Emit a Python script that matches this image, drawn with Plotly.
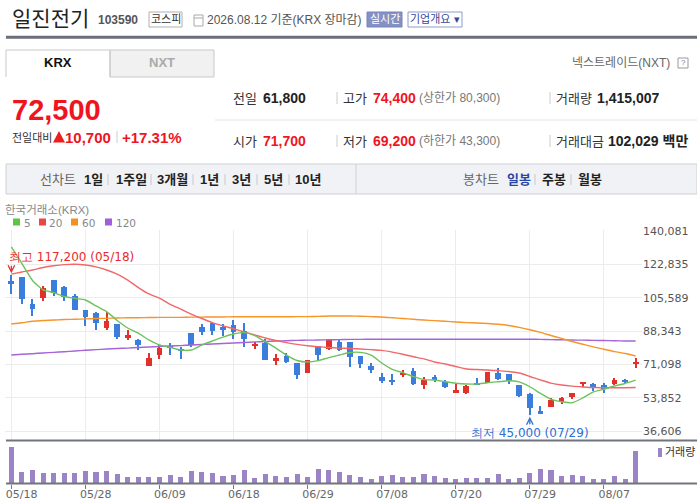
import plotly.graph_objects as go

W, H = 697, 503

# ---------------- data ----------------
dates = ["05/18","05/19","05/20","05/21","05/22","05/26","05/27","05/28","05/29","06/01",
         "06/02","06/04","06/05","06/08","06/09","06/10","06/11","06/12","06/15","06/16",
         "06/17","06/18","06/19","06/22","06/23","06/24","06/25","06/26","06/29","06/30",
         "07/01","07/02","07/03","07/06","07/07","07/08","07/09","07/10","07/13","07/14",
         "07/15","07/16","07/20","07/21","07/22","07/23","07/24","07/27","07/28","07/29",
         "07/30","07/31","08/03","08/04","08/05","08/06","08/07","08/10","08/11","08/12"]

opens = [114200,116300,102300,105600,114700,111100,106500,99400,97700,89900,
         92000,84900,83800,70400,76100,80300,78900,87200,90300,92500,
         90300,91400,88200,80700,82300,72800,75400,71800,66800,80600,
         79200,82700,82700,75400,70200,64500,63000,65700,67600,60600,
         64400,62100,56300,56100,61600,61600,66800,66100,60400,55700,
         47100,49200,51500,54300,61100,60900,60400,60900,63000,71700]
highs = [117200,116300,104900,111800,114700,111600,107500,99400,98200,98200,
         92000,88900,84400,76800,81200,82000,79900,87200,92000,92500,
         92000,94000,92500,82700,84200,76400,77100,71800,73300,80600,
         84400,84000,82700,75400,71600,66600,66100,68200,69200,64700,
         65600,63000,61300,60400,63900,67300,69400,66100,60400,56400,
         49500,53500,54300,56400,61800,61600,61300,63900,63500,74400]
lows = [107300,102200,96300,104000,106600,104000,99000,91100,88900,89000,
        84200,83700,78500,70400,73900,75900,74000,80100,86300,86300,
        85800,84200,80200,79000,73300,70900,71900,63500,66800,72700,
        78500,78200,69900,69400,66500,61300,60600,64700,60400,58300,
        62100,59100,56300,55600,60400,61600,63000,60900,54200,45000,
        45400,49200,50400,53200,59200,57500,56400,60200,60800,69200]
closes = [112800,105100,99900,110400,108200,105800,99200,95700,92600,93700,
          85100,86300,81300,74500,79500,79600,78000,81100,88000,88500,
          88900,87800,84200,81800,73300,74400,72500,65700,73300,76100,
          83700,78500,75000,71400,68200,62500,62100,66600,60900,63200,
          63400,59500,57800,59900,60900,67300,63500,62500,54700,48700,
          45600,52600,53500,56100,61600,59200,58200,63000,61800,72500]
volumes = [1590000,495000,583000,451000,451000,451000,451000,539000,495000,539000,
           407000,276000,276000,276000,276000,364000,276000,539000,495000,451000,
           320000,364000,583000,232000,407000,320000,276000,407000,276000,626000,
           583000,495000,364000,276000,188000,320000,364000,276000,276000,407000,
           320000,232000,188000,232000,232000,232000,407000,188000,232000,451000,
           626000,583000,320000,364000,320000,188000,188000,320000,188000,1415007]
ma5 = [131900,123200,114500,109600,108200,106200,105300,104400,101300,98400,
       93800,89900,87200,83700,81100,79900,78500,78500,81100,83200,
       85200,86800,87500,86000,82800,79500,75900,73100,72300,73000,
       74600,75900,77200,77300,75900,71800,68500,66800,64700,63200,
       63000,62100,61300,60900,60900,61600,62100,62600,62000,59500,
       56100,53000,51800,51200,53700,56800,58200,59900,61200,62900]
ma20 = [117800,118900,119900,121200,122100,122700,122900,122500,121500,119900,
        117800,114700,110800,107500,105300,102100,99700,97100,94800,92700,
        91000,89500,87900,86300,84700,83400,82300,81400,80700,80200,
        79800,79500,79300,79000,78700,78300,77400,76300,75000,73900,
        72300,71300,70000,68700,68400,68200,67800,67400,66600,64800,
        63000,61400,60400,59800,59400,59100,59000,59000,59000,59100]
ma60 = [92000,92600,93400,93800,94000,94300,94400,94600,94800,94900,
        95100,95200,95200,95300,95400,95400,95400,95500,95500,95600,
        95600,95700,95700,95700,95700,95700,95700,95800,95800,95900,
        96100,96100,96100,96000,95800,95600,95200,94800,94400,94000,
        93700,93400,93000,92700,92500,92200,91800,91200,90200,89000,
        87600,86000,84500,82900,81500,80100,78900,77700,76700,75400]
ma120 = [75900,76300,76600,77000,77300,77600,78000,78400,78700,79000,
         79300,79500,79800,80100,80300,80600,80800,81100,81400,81600,
         81900,82100,82400,82700,82900,83200,83300,83500,83600,83700,
         83800,83900,84000,84000,84100,84100,84100,84100,84100,84100,
         84100,84100,84100,84100,84100,84100,84100,84100,84100,84100,
         84000,83900,83800,83700,83600,83500,83400,83300,83200,83200]

date_ticks = ["05/18","05/28","06/09","06/18","06/29","07/08","07/20","07/29","08/07"]
price_ticks = [140081,122835,105589,88343,71098,53852,36606]
high_label = "최고 117,200 (05/18)"
low_label = "최저 45,000 (07/29)"

# ---------------- helpers ----------------
def X(px):
    return px / W

def Y(py):
    return 1 - py / H

UP, DOWN = "#e2302a", "#3a7ddd"
KFONT = "Liberation Sans, Noto Sans CJK KR, sans-serif"
DFONT = "DejaVu Sans, sans-serif"

fig = go.Figure()

colors = [UP if c >= o else DOWN for o, c in zip(opens, closes)]

# wicks
fig.add_trace(go.Bar(x=dates, y=[h - l for h, l in zip(highs, lows)], base=lows,
                     width=0.11, marker=dict(color=colors, line=dict(width=0)),
                     xaxis="x", yaxis="y", hoverinfo="skip"))
# bodies
fig.add_trace(go.Bar(x=dates, y=[abs(c - o) for o, c in zip(opens, closes)],
                     base=[min(o, c) for o, c in zip(opens, closes)],
                     width=0.54, marker=dict(color=colors, line=dict(width=0)),
                     xaxis="x", yaxis="y", hoverinfo="skip"))

for vals, col in [(ma120, "#a565d6"), (ma60, "#f7942a"), (ma20, "#f06868"), (ma5, "#6cc25c")]:
    fig.add_trace(go.Scatter(x=dates, y=vals, mode="lines",
                             line=dict(color=col, width=1.4, shape="spline", smoothing=0.6),
                             xaxis="x", yaxis="y", hoverinfo="skip"))

# volume
fig.add_trace(go.Bar(x=dates, y=volumes, width=0.48,
                     marker=dict(color="#9a84c5", line=dict(width=0)),
                     xaxis="x2", yaxis="y2", hoverinfo="skip"))

upp = (price_ticks[0] - price_ticks[-1]) / 200.0
yr = [price_ticks[-1] - 9 * upp, price_ticks[0] + 1 * upp]

fig.update_layout(
    width=W, height=H, margin=dict(l=0, r=0, t=0, b=0, autoexpand=False),
    paper_bgcolor="white", plot_bgcolor="white",
    showlegend=False, barmode="overlay", bargap=0,
    xaxis=dict(domain=[X(5), X(642)], type="category", range=[-0.6, 59.6],
               tickmode="array", tickvals=date_ticks, showticklabels=False,
               showgrid=True, gridcolor="#ececec", gridwidth=1, zeroline=False,
               showline=False, ticks="", anchor="y", fixedrange=True, automargin=False),
    yaxis=dict(domain=[Y(440), Y(230)], range=yr, side="right",
               tickmode="array", tickvals=price_ticks,
               ticktext=[f"{v:,}" for v in price_ticks],
               showgrid=True, gridcolor="#ececec", gridwidth=1, zeroline=False,
               showline=False, ticks="", anchor="x", automargin=False,
               tickfont=dict(family=DFONT, size=11, color="#555"), fixedrange=True),
    xaxis2=dict(domain=[X(5), X(642)], type="category", range=[-0.6, 59.6],
                tickmode="array", tickvals=date_ticks, showgrid=False,
                ticks="outside", ticklen=4, tickcolor="#777", tickwidth=1,
                ticklabelposition="outside right", ticklabelshift=-6,
                showline=False, zeroline=False, anchor="y2", automargin=False,
                tickfont=dict(family=DFONT, size=11, color="#666"), fixedrange=True),
    yaxis2=dict(domain=[Y(483.5), Y(442)], range=[0, 1820000], showgrid=False,
                showticklabels=False, zeroline=False, showline=False, anchor="x2",
                fixedrange=True, automargin=False),
)

shapes = []
def line(x0, y0, x1, y1, color, width=1):
    shapes.append(dict(type="line", xref="paper", yref="paper", x0=X(x0), y0=Y(y0),
                       x1=X(x1), y1=Y(y1), line=dict(color=color, width=width)))
def rect(x0, y0, x1, y1, fill, lc=None, lw=1):
    shapes.append(dict(type="rect", xref="paper", yref="paper", x0=X(x0), y0=Y(y0),
                       x1=X(x1), y1=Y(y1), fillcolor=fill,
                       line=dict(color=lc if lc else fill, width=lw if lc else 0)))

# chart separators
line(6, 440.5, 697, 440.5, "#70757d", 2)
line(6, 483.5, 697, 483.5, "#70757d", 2)

# header
line(6, 37.3, 697, 37.3, "#6b6f78", 3)
rect(149, 12, 182, 27, "white", "#b0b0b0")
rect(194, 15, 203, 26, "white", "#a9a9a9")
line(194, 18, 203, 18, "#a9a9a9")
rect(367, 12, 402, 27, "#8591c3", "#7584bb")
rect(408, 12, 462, 27, "white", "#8c9acb")
# tabs
rect(110, 50, 214, 77, "#f1f1f1", "#c9c9c9")
shapes.append(dict(type="path", xref="paper", yref="paper",
                   path=f"M{X(6)},{Y(77)} L{X(6)},{Y(50)} L{X(110)},{Y(50)} L{X(110)},{Y(77)}",
                   line=dict(color="#c9c9c9", width=1)))
rect(678, 58, 688, 68, "white", "#9a9a9a")
line(215, 120, 697, 120, "#e4e4e4")
for yy in (98, 141):
    line(337, yy - 6, 337, yy + 6, "#cccccc")
    line(550, yy - 6, 550, yy + 6, "#cccccc")
line(117, 131, 117, 143, "#cccccc")
shapes.append(dict(type="path", xref="paper", yref="paper",
                   path=f"M{X(53)},{Y(142.5)} L{X(65)},{Y(142.5)} L{X(59)},{Y(131)} Z",
                   fillcolor="#ee1c1c", line=dict(width=0)))
# toolbar
rect(6, 164, 697, 194, "#f1f2f6", "#cfd0d4")
line(356, 164, 356, 194, "#cfd0d4")
for sx in (108, 151, 193, 225, 257, 289, 535, 571):
    line(sx, 174, sx, 185, "#c8c8c8")
# MA legend squares
for x0, col in [(13, "#5cc544"), (39, "#ee4444"), (71, "#f5901e"), (105, "#a25ed6")]:
    rect(x0, 218.5, x0 + 7, 225.5, col)
rect(658, 448, 662, 457, "#9a84c5")

fig.update_layout(shapes=shapes)

ann = []
def text(x, y, s, size, color, anchor="left", family=KFONT):
    ann.append(dict(xref="paper", yref="paper", x=X(x), y=Y(y), text=s, showarrow=False,
                    xanchor=anchor, yanchor="middle", borderpad=0,
                    font=dict(family=family, size=size, color=color)))

RED = "#f0141e"
text(11, 18, "일진전기", 21, "#222")
text(97, 20, "<b>103590</b>", 12, "#555")
text(165.5, 19.5, "코스피", 11, "#333", "center")
text(206, 20, "2026.08.12 기준(KRX 장마감)", 12, "#555")
text(384.5, 19.5, "실시간", 11, "white", "center")
text(435, 19.5, "기업개요 ▾", 11, "#34489a", "center")
text(58, 63, "<b>KRX</b>", 13, "#111", "center")
text(162, 63, "<b>NXT</b>", 13, "#aaaaaa", "center")
text(571, 63, "넥스트레이드(NXT)", 12, "#666")
text(683, 63, "?", 8, "#777", "center")
text(11, 110, "<b>72,500</b>", 29, RED)
text(11, 137, "전일대비", 11, "#333")
text(64, 137, "<b>10,700</b>", 15, RED)
text(121, 137, "<b>+17.31%</b>", 15, RED)
for yy, items in [(98, [("전일", 232, "#333", 13, False), ("61,800", 262, "#222", 14, True),
                        ("고가", 342, "#333", 13, False), ("74,400", 372, RED, 14, True),
                        ("(상한가 80,300)", 418, "#777", 12, False),
                        ("거래량", 555, "#333", 13, False), ("1,415,007", 596, "#222", 14, True)]),
                  (141, [("시가", 232, "#333", 13, False), ("71,700", 262, RED, 14, True),
                         ("저가", 342, "#333", 13, False), ("69,200", 372, RED, 14, True),
                         ("(하한가 43,300)", 418, "#777", 12, False),
                         ("거래대금", 555, "#333", 13, False), ("102,029 백만", 607, "#222", 14, True)])]:
    for s, xx, col, sz, b in items:
        text(xx, yy, f"<b>{s}</b>" if b else s, sz, col)
for s, xx, col, b in [("선차트", 39, "#666", False), ("1일", 83, "#222", True), ("1주일", 115, "#222", True),
                      ("3개월", 156, "#222", True), ("1년", 199, "#222", True), ("3년", 231, "#222", True),
                      ("5년", 263, "#222", True), ("10년", 294, "#222", True),
                      ("봉차트", 462, "#666", False), ("일봉", 506, "#2b47a3", True),
                      ("주봉", 541, "#222", True), ("월봉", 577, "#222", True)]:
    text(xx, 179, f"<b>{s}</b>" if b else s, 13, col)
text(4, 210, "한국거래소(KRX)", 11.5, "#888")
for s, xx in [("5", 23), ("20", 48), ("60", 81), ("120", 115)]:
    text(xx, 222.5, s, 10.5, "#888", family=DFONT)
text(664, 452, "거래량", 11, "#333")

# high / low markers
ann.append(dict(xref="x", yref="y", x=dates[0], y=highs[0], ax=0, ay=-11, text="",
                showarrow=True, arrowhead=5, arrowsize=1, arrowwidth=1.3,
                arrowcolor="#e8302f", standoff=2))
ann.append(dict(xref="x", yref="y", x=dates[0], y=highs[0], text=high_label, showarrow=False,
                xanchor="left", yanchor="middle", xshift=-4, yshift=18.5,
                font=dict(family=DFONT, size=12, color="#ea2b2b")))
li = lows.index(min(lows))
ann.append(dict(xref="x", yref="y", x=dates[li], y=lows[li], ax=0, ay=11, text="",
                showarrow=True, arrowhead=5, arrowsize=1, arrowwidth=1.3,
                arrowcolor="#2e72d6", standoff=2))
ann.append(dict(xref="x", yref="y", x=dates[li], y=lows[li], text=low_label, showarrow=False,
                xanchor="center", yanchor="middle", yshift=-18.5,
                font=dict(family=DFONT, size=12, color="#2e6fd0")))

fig.update_layout(annotations=ann)

fig.write_html("out.html", config={"displayModeBar": False},
               post_script="document.body.style.margin='0';")
